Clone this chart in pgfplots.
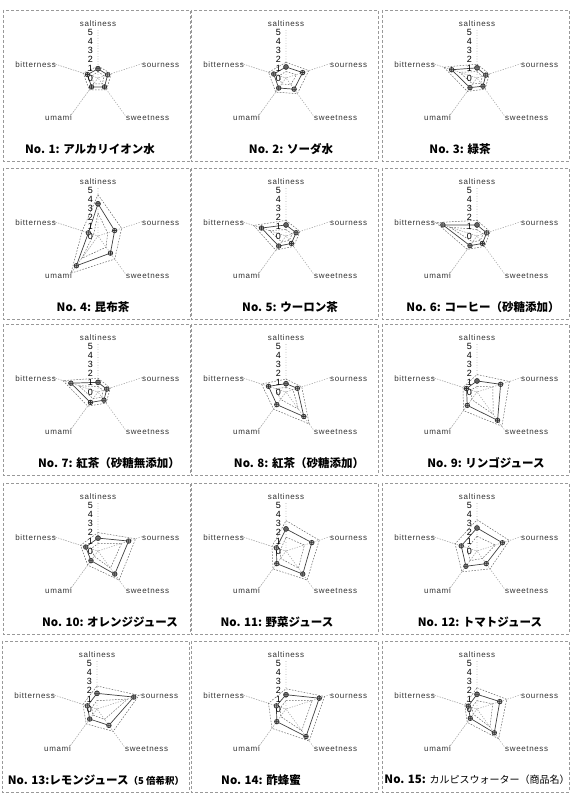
\documentclass[border=0pt]{standalone}
\usepackage{fontspec}
\setmainfont{Liberation Sans}
\newfontfamily\cjk{Noto Sans CJK JP}
\newfontfamily\lblfont[LetterSpace=8]{Liberation Sans}
\usepackage{pgfplots}
\pgfplotsset{compat=1.18}
\usepackage{pgfplotstable}
\usepgfplotslibrary{polar}
\usetikzlibrary{plotmarks}

% angle: saltiness 90, sourness 18, sweetness 306, umami 234, bitterness 162
% m = mean, u/l = dashed upper and lower lines
\pgfplotstableread{
ang m u l
90  1.0 1.3 0.7
18  1.1 1.5 0.7
306 1.2 1.6 0.8
234 1.2 1.6 0.8
162 1.2 1.7 0.7
90  1.0 1.3 0.7
}\tA
\pgfplotstableread{
ang m u l
90  1.2 1.7 0.7
18  1.9 2.6 1.2
306 1.5 2.1 0.9
234 1.35 1.9 0.8
162 1.4 2.0 0.8
90  1.2 1.7 0.7
}\tB
\pgfplotstableread{
ang m u l
90  1.1 1.5 0.7
18  1.0 1.4 0.6
306 1.1 1.5 0.7
234 1.3 1.8 0.8
162 2.9 3.8 2.0
90  1.1 1.5 0.7
}\tC
\pgfplotstableread{
ang m u l
90  3.5 4.5 2.5
18  1.9 2.7 1.1
306 2.3 3.1 1.5
234 4.0 5.0 3.0
162 1.1 1.8 0.5
90  3.5 4.5 2.5
}\tD
\pgfplotstableread{
ang m u l
90  1.2 1.7 0.7
18  1.15 1.6 0.7
306 1.0 1.4 0.6
234 1.35 1.9 0.8
162 2.8 3.7 1.9
90  1.2 1.7 0.7
}\tE
\pgfplotstableread{
ang m u l
90  1.2 1.7 0.7
18  1.1 1.5 0.7
306 1.0 1.4 0.6
234 1.3 1.8 0.8
162 3.9 4.7 3.1
90  1.2 1.7 0.7
}\tF
\pgfplotstableread{
ang m u l
90  1.05 1.5 0.6
18  1.0 1.4 0.6
306 1.1 1.5 0.7
234 1.4 1.9 0.9
162 3.1 4.0 2.2
90  1.05 1.5 0.6
}\tG
\pgfplotstableread{
ang m u l
90  0.9 1.4 0.5
18  1.3 1.8 0.8
306 3.3 4.3 2.3
234 1.7 2.3 1.0
162 2.0 2.8 1.2
90  0.9 1.4 0.5
}\tH
\pgfplotstableread{
ang m u l
90  1.2 1.9 0.6
18  2.7 3.7 1.8
306 3.8 4.6 3.0
234 1.8 2.5 1.0
162 1.2 1.6 0.7
90  1.2 1.9 0.6
}\tI
\pgfplotstableread{
ang m u l
90  1.4 2.0 0.8
18  3.5 4.3 2.7
306 3.1 3.9 2.3
234 1.3 1.9 0.7
162 1.4 2.0 0.8
90  1.4 2.0 0.8
}\tJ
\pgfplotstableread{
ang m u l
90  2.4 3.3 1.5
18  2.95 3.8 2.1
306 3.1 3.9 2.3
234 1.7 2.4 1.0
162 1.1 1.6 0.6
90  2.4 3.3 1.5
}\tK
\pgfplotstableread{
ang m u l
90  2.5 3.4 1.6
18  2.9 3.7 2.1
306 1.7 2.4 1.0
234 2.05 2.8 1.3
162 1.8 2.5 1.1
90  2.5 3.4 1.6
}\tL
\pgfplotstableread{
ang m u l
90  1.7 2.5 0.9
18  4.2 4.8 3.5
306 2.2 3.0 1.4
234 1.35 2.0 0.8
162 1.1 1.6 0.6
90  1.7 2.5 0.9
}\tM
\pgfplotstableread{
ang m u l
90  1.55 2.2 0.9
18  3.8 4.4 3.0
306 3.7 4.3 2.9
234 1.7 2.6 1.0
162 1.1 2.0 0.6
90  1.55 2.2 0.9
}\tN
\pgfplotstableread{
ang m u l
90  1.6 2.3 0.9
18  2.6 3.4 1.8
306 3.2 4.0 2.4
234 1.25 1.8 0.7
162 1.0 1.4 0.6
90  1.6 2.3 0.9
}\tO

\tikzset{
  spoke/.style={gray!70, dotted, line width=0.6pt},
  band/.style={gray!80!black, dash pattern=on 1.6pt off 1.4pt, line width=0.5pt},
  meanline/.style={black!75, line width=0.7pt, mark=oplus*, mark size=2.3pt,
    mark options={solid, fill=gray!55, draw=black!80}},
  lbl/.style={font=\lblfont\fontsize{8}{8}\selectfont, text=black!80, inner sep=0pt},
  tck/.style={font=\fontsize{9}{9}\selectfont, anchor=east, xshift=-5pt, inner sep=0pt},
  ttl/.style={font=\cjk\bfseries\fontsize{11.5}{12}\selectfont, inner sep=0pt},
  box/.style={gray!80, densely dashed, line width=0.5pt},
}

% #1 centre x, #2 centre y (pixels from top), #3 title x, #4 title, #5 table
\newcommand\radar[5]{%
  \begin{polaraxis}[
      at={(#1pt,805pt-#2pt)}, anchor=center,
      width=92pt, height=92pt, scale only axis,
      xmin=0, xmax=360, ymin=0, ymax=5,
      hide axis, clip=false,
    ]
    \addplot[spoke] coordinates {(90,5.2) (90,0) (18,5.4) (18,0) (306,5.4) (306,0)
      (234,5.4) (234,0) (162,5.2) (162,0)};
    \addplot[band] table[x=ang, y=u] {#5};
    \addplot[band] table[x=ang, y=l] {#5};
    \addplot[meanline] table[x=ang, y=m] {#5};
    \node[tck] at (axis cs:90,5) {5};
    \node[tck] at (axis cs:90,4) {4};
    \node[tck] at (axis cs:90,3) {3};
    \node[tck] at (axis cs:90,2) {2};
    \node[tck] at (axis cs:90,1) {1};
    \node[tck] at (axis cs:90,0) {0};
    \node[lbl, yshift=54pt] at (axis cs:0,0) {saltiness};
    \node[lbl, anchor=west, xshift=44pt, yshift=13pt] at (axis cs:0,0) {sourness};
    \node[lbl, anchor=west, xshift=28pt, yshift=-40pt] at (axis cs:0,0) {sweetness};
    \node[lbl, anchor=east, xshift=-26pt, yshift=-40pt] at (axis cs:0,0) {umami};
    \node[lbl, anchor=east, xshift=-42pt, yshift=13pt] at (axis cs:0,0) {bitterness};
  \end{polaraxis}
  \node[ttl] at (#3pt,805pt-#2pt-71pt) {#4};
  \draw[box] (#1pt-95pt,805pt-#2pt+68pt) rectangle (#1pt+92pt,805pt-#2pt-83pt);
}

\begin{document}
\begin{tikzpicture}
  \useasboundingbox (0pt,0pt) rectangle (581pt,805pt);
  \radar{98}{78}{90}{No. 1: アルカリイオン水}{\tA}
  \radar{286}{78}{291}{No. 2: ソーダ水}{\tB}
  \radar{477}{78}{460}{No. 3: 緑茶}{\tC}
  \radar{98}{236}{93}{No. 4: 昆布茶}{\tD}
  \radar{286}{236}{290}{No. 5: ウーロン茶}{\tE}
  \radar{477}{236}{483}{No. 6: コーヒー（砂糖添加）}{\tF}
  \radar{98}{392}{109}{No. 7: 紅茶（砂糖無添加）}{\tG}
  \radar{286}{392}{299}{No. 8: 紅茶（砂糖添加）}{\tH}
  \radar{477}{392}{486}{No. 9: リンゴジュース}{\tI}
  \radar{98}{551}{110}{No. 10: オレンジジュース}{\tJ}
  \radar{286}{551}{277}{No. 11: 野菜ジュース}{\tK}
  \radar{477}{551}{480}{No. 12: トマトジュース}{\tL}
  \radar{97}{709}{96}{No. 13:レモンジュース{\fontsize{9.5}{10}\selectfont（5 倍希釈）}}{\tM}
  \radar{286}{709}{261}{No. 14: 酢蜂蜜}{\tN}
  \radar{477}{709}{477}{No. 15: {\mdseries\fontsize{10}{10}\selectfont カルピスウォーター（商品名）}}{\tO}
\end{tikzpicture}
\end{document}
